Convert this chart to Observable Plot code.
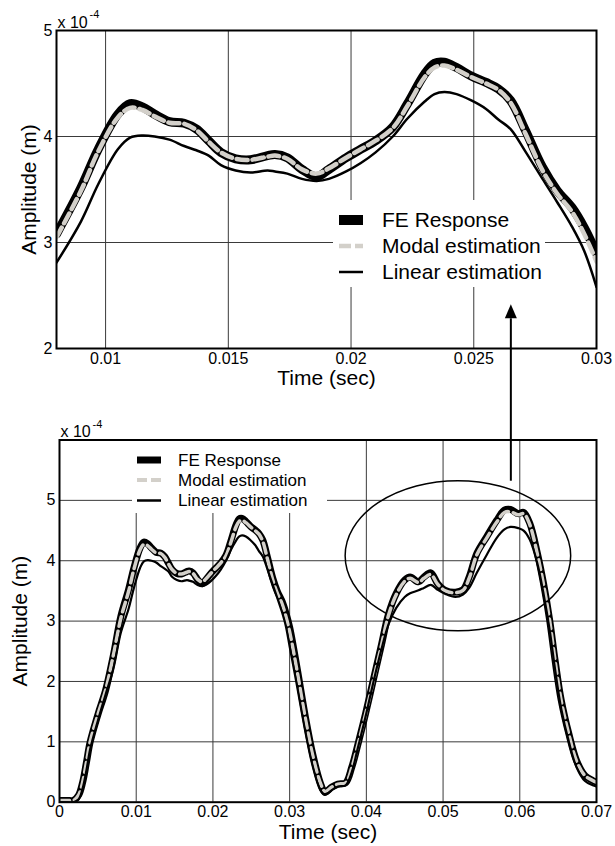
<!DOCTYPE html>
<html><head><meta charset="utf-8">
<script src="https://cdn.jsdelivr.net/npm/d3@7"></script>
<script src="https://cdn.jsdelivr.net/npm/@observablehq/plot@0.6"></script>
<style>
html,body{margin:0;padding:0;background:#fff;}
#chart{position:relative;width:615px;height:846px;overflow:hidden;background:#fff;font-family:"Liberation Sans",Arial,Helvetica,sans-serif;}
#chart svg{position:absolute;left:0;top:0;background:transparent;overflow:visible;}
</style></head><body><div id="chart"></div>
<script>
// ---------- data ----------
const time = [0,0.001,0.0018,0.0025,0.003,0.0035,0.004,0.005,0.006,0.007,
  0.008,0.009,0.0097,0.0105,0.011,0.0115,0.012,0.0126,0.0132,0.0137,
  0.0142,0.0147,0.0153,0.0159,0.0166,0.0169,0.0174,0.018,0.0186,0.0191,
  0.0198,0.0204,0.021,0.0217,0.0223,0.023,0.0234,0.0238,0.0243,0.0249,
  0.0255,0.026,0.0265,0.0271,0.0278,0.0284,0.029,0.0295,0.030,0.031,
  0.032,0.033,0.034,0.0346,0.0355,0.0363,0.0373,0.0381,0.0388,0.0399,
  0.0409,0.0419,0.0429,0.0439,0.045,0.0457,0.0468,0.0475,0.0484,0.0493,
  0.0503,0.0516,0.0526,0.0534,0.0544,0.0557,0.057,0.058,0.0588,0.0598,
  0.0605,0.0613,0.0623,0.0631,0.0639,0.0646,0.0654,0.0664,0.0674,0.0685,
  0.0695,0.07];
const feResponse = [0.03,0.03,0.03,0.12,0.32,0.65,1.0,1.45,1.85,2.42,
  3.08,3.52,3.88,4.21,4.31,4.28,4.21,4.14,4.125,4.07,
  3.96,3.85,3.79,3.78,3.82,3.83,3.80,3.69,3.62,3.69,
  3.80,3.88,3.96,4.09,4.31,4.59,4.69,4.70,4.65,4.57,
  4.51,4.45,4.34,4.06,3.71,3.49,3.33,3.14,2.90,2.2,
  1.45,0.8,0.32,0.17,0.25,0.30,0.32,0.58,0.91,1.47,
  2.02,2.57,3.12,3.46,3.68,3.73,3.65,3.73,3.80,3.62,
  3.51,3.48,3.52,3.73,4.12,4.40,4.67,4.84,4.85,4.78,
  4.80,4.62,4.12,3.62,3.01,2.35,1.69,1.13,0.69,0.44,
  0.36,0.33];
const modalEstimation = [0.03,0.03,0.03,0.12,0.32,0.65,1.0,1.45,1.85,2.42,
  3.05,3.49,3.86,4.18,4.27,4.25,4.19,4.13,4.12,4.06,
  3.95,3.85,3.79,3.78,3.81,3.82,3.79,3.69,3.65,3.70,
  3.80,3.88,3.96,4.08,4.29,4.56,4.65,4.67,4.63,4.56,
  4.50,4.44,4.32,4.03,3.68,3.46,3.29,3.08,2.82,2.15,
  1.42,0.78,0.32,0.18,0.25,0.30,0.32,0.57,0.90,1.46,
  2.01,2.56,3.10,3.44,3.66,3.71,3.64,3.71,3.77,3.61,
  3.50,3.47,3.51,3.71,4.10,4.38,4.64,4.80,4.81,4.76,
  4.78,4.60,4.10,3.60,3.0,2.34,1.68,1.12,0.68,0.44,
  0.36,0.33];
const linearEstimation = [0.0,0.0,0.0,0.05,0.22,0.52,0.88,1.35,1.78,2.2,
  2.81,3.2,3.55,3.88,3.99,4.01,4.00,3.97,3.91,3.87,
  3.82,3.73,3.68,3.66,3.68,3.67,3.65,3.60,3.58,3.60,
  3.67,3.75,3.85,4.0,4.17,4.33,4.40,4.42,4.40,4.34,
  4.26,4.16,4.07,3.86,3.60,3.38,3.15,2.92,2.58,1.9,
  1.2,0.6,0.2,0.12,0.2,0.26,0.28,0.5,0.85,1.42,
  1.98,2.5,2.95,3.22,3.40,3.46,3.51,3.55,3.60,3.52,
  3.45,3.40,3.44,3.55,3.80,4.10,4.38,4.52,4.56,4.54,
  4.50,4.35,3.95,3.45,2.85,2.2,1.55,1.0,0.58,0.35,
  0.28,0.26];
const seriesNames = ["FE Response", "Modal estimation", "Linear estimation"];

const topXDomain = [0.008, 0.03];
const topYDomain = [2, 5];
const topXTicks = [0.01, 0.015, 0.02, 0.025, 0.03];
const topXTickLabels = ["0.01", "0.015", "0.02", "0.025", "0.03"];
const topYTicks = [2, 3, 4, 5];
const topYTickLabels = ["2", "3", "4", "5"];

const bottomXDomain = [0, 0.07];
const bottomYDomain = [0, 6];
const bottomXTicks = [0, 0.01, 0.02, 0.03, 0.04, 0.05, 0.06, 0.07];
const bottomXTickLabels = ["0", "0.01", "0.02", "0.03", "0.04", "0.05", "0.06", "0.07"];
const bottomYTicks = [0, 1, 2, 3, 4, 5];
const bottomYTickLabels = ["0", "1", "2", "3", "4", "5"];
const bottomYGrid = [1, 2, 3, 4, 5, 6];

const xLabel = "Time (sec)";
const yLabel = "Amplitude (m)";
const exponentBase = "x 10";
const exponentPower = "-4";

// annotation (bottom panel data units)
const ellipseCenter = [0.052, 4.075];
const ellipseRadii = [0.0147, 1.242];
const arrowTime = 0.0589;
const arrowTipValue = 8.24;

// ---------- styles ----------
const FONT = "'Liberation Sans', Arial, Helvetica, sans-serif";
const MODAL_COLOR = "#d3d0ca";
const GRID_COLOR = "#3a3a3a";

const allIdx = time.map((_, i) => i);

function seriesMarks(idx, w) {
  return [
    Plot.line(idx, {x: i => time[i], y: i => feResponse[i], stroke: "black", strokeWidth: w.fe, curve: "catmull-rom", strokeLinejoin: "round", clip: true}),
    Plot.line(idx, {x: i => time[i], y: i => modalEstimation[i], stroke: MODAL_COLOR, strokeWidth: w.modal, strokeDasharray: w.dash, curve: "catmull-rom", clip: true}),
    Plot.line(idx, {x: i => time[i], y: i => linearEstimation[i], stroke: "black", strokeWidth: w.lin, curve: "catmull-rom", strokeLinejoin: "round", clip: true})
  ];
}

function legendBg(b) {
  return () => {
    const g = d3.create("svg:g");
    g.append("rect").attr("x", b.x).attr("y", b.y).attr("width", b.w).attr("height", b.h).attr("fill", "white");
    return g.node();
  };
}

function legendItems(L) {
  return () => {
    const g = d3.create("svg:g");
    const styles = [
      {stroke: "black", width: L.fe, dash: null},
      {stroke: MODAL_COLOR, width: L.modal, dash: L.dash},
      {stroke: "black", width: L.lin, dash: null}
    ];
    seriesNames.forEach((name, i) => {
      const y = L.rows[i];
      const s = styles[i];
      const ln = g.append("line").attr("x1", L.sx).attr("x2", L.sx + L.sw).attr("y1", y).attr("y2", y)
        .attr("stroke", s.stroke).attr("stroke-width", s.width);
      if (s.dash) ln.attr("stroke-dasharray", s.dash);
      g.append("text").attr("x", L.tx).attr("y", y).attr("dy", "0.35em")
        .attr("text-anchor", "start")
        .attr("font-size", L.fs).attr("font-family", FONT).attr("fill", "black").text(name);
    });
    return g.node();
  };
}

function axisText(o) {
  return [
    Plot.text(o.xTicks, {x: d => d, text: (d, i) => o.xLabels[i], frameAnchor: "bottom", lineAnchor: "middle", dy: 10, fontSize: 16, fill: "black"}),
    Plot.text(o.yTicks, {y: d => d, text: (d, i) => o.yLabels[i], frameAnchor: "left", lineAnchor: "middle", textAnchor: "end", dx: -4, fontSize: 16, fill: "black"}),
    Plot.text([xLabel], {text: d => d, frameAnchor: "bottom", lineAnchor: "middle", textAnchor: "middle", dy: 30, fontSize: 21, fill: "black"}),
    Plot.text([yLabel], {text: d => d, frameAnchor: "left", lineAnchor: "middle", textAnchor: "middle", rotate: -90, dx: o.yLabelDx, fontSize: 21, fill: "black"}),
    Plot.text([exponentBase], {text: d => d, frameAnchor: "top-left", lineAnchor: "middle", textAnchor: "start", dx: 1, dy: -8, fontSize: 16, fill: "black"}),
    Plot.text([exponentPower], {text: d => d, frameAnchor: "top-left", lineAnchor: "middle", textAnchor: "start", dx: 33, dy: -16, fontSize: 11, fill: "black"})
  ];
}

// ---------- top panel ----------
const topIdx = allIdx.filter(i => time[i] >= topXDomain[0] && time[i] <= topXDomain[1]);
const topPlot = Plot.plot({
  width: 615, height: 846,
  marginLeft: 56, marginRight: 19, marginTop: 30, marginBottom: 498,
  x: {domain: topXDomain, axis: null},
  y: {domain: topYDomain, axis: null},
  style: {background: "transparent", overflow: "visible", fontFamily: FONT, fontSize: "16px", color: "black"},
  marks: [
    Plot.ruleX(topXTicks, {x: d => d, stroke: GRID_COLOR, strokeWidth: 1}),
    Plot.ruleY(topYTicks, {y: d => d, stroke: GRID_COLOR, strokeWidth: 1}),
    legendBg({x: 333, y: 200, w: 212, h: 87}),
    ...seriesMarks(topIdx, {fe: 9, modal: 4.5, lin: 2.5, dash: "11,5"}),
    legendItems({sx: 339, sw: 24, tx: 382, fs: 21, rows: [220, 246, 272], fe: 10, modal: 4.5, lin: 2.5, dash: "12,4"}),
    Plot.frame({stroke: "black", strokeWidth: 2}),
    ...axisText({xTicks: topXTicks, xLabels: topXTickLabels, yTicks: topYTicks, yLabels: topYTickLabels, yLabelDx: -27})
  ]
});

// ---------- bottom panel ----------
function ellipseMark(index, scales) {
  const g = d3.create("svg:g");
  const cx = scales.x(ellipseCenter[0]), cy = scales.y(ellipseCenter[1]);
  const rx = Math.abs(scales.x(ellipseCenter[0] + ellipseRadii[0]) - cx);
  const ry = Math.abs(scales.y(ellipseCenter[1] + ellipseRadii[1]) - cy);
  g.append("ellipse").attr("cx", cx).attr("cy", cy).attr("rx", rx).attr("ry", ry)
    .attr("fill", "none").attr("stroke", "black").attr("stroke-width", 1.5);
  return g.node();
}
function arrowMark(index, scales) {
  const g = d3.create("svg:g");
  const x = scales.x(arrowTime);
  const y0 = scales.y(ellipseCenter[1] + ellipseRadii[1]);
  const tip = scales.y(arrowTipValue);
  const headLen = 14, headHalf = 6;
  g.append("line").attr("x1", x).attr("x2", x).attr("y1", y0).attr("y2", tip + headLen)
    .attr("stroke", "black").attr("stroke-width", 2);
  g.append("path").attr("d", `M${x},${tip}L${x - headHalf},${tip + headLen}L${x + headHalf},${tip + headLen}Z`)
    .attr("fill", "black");
  return g.node();
}

const bottomPlot = Plot.plot({
  width: 615, height: 846,
  marginLeft: 59, marginRight: 19, marginTop: 439.5, marginBottom: 44.3,
  x: {domain: bottomXDomain, axis: null},
  y: {domain: bottomYDomain, axis: null},
  style: {background: "transparent", overflow: "visible", fontFamily: FONT, fontSize: "16px", color: "black"},
  marks: [
    Plot.ruleX(bottomXTicks, {x: d => d, stroke: GRID_COLOR, strokeWidth: 1}),
    Plot.ruleY(bottomYGrid, {y: d => d, stroke: GRID_COLOR, strokeWidth: 1}),
    legendBg({x: 132, y: 441, w: 195, h: 72}),
    ellipseMark,
    ...seriesMarks(allIdx, {fe: 7, modal: 3.5, lin: 2.2, dash: "10,5"}),
    legendItems({sx: 137, sw: 24, tx: 178, fs: 17, rows: [460, 480, 500.5], fe: 7, modal: 4, lin: 2.5, dash: "10,4"}),
    Plot.frame({stroke: "black", strokeWidth: 2}),
    arrowMark,
    ...axisText({xTicks: bottomXTicks, xLabels: bottomXTickLabels, yTicks: bottomYTicks, yLabels: bottomYTickLabels, yLabelDx: -39})
  ]
});

const chart = document.getElementById("chart");
chart.appendChild(topPlot);
chart.appendChild(bottomPlot);
</script>
</body></html>
